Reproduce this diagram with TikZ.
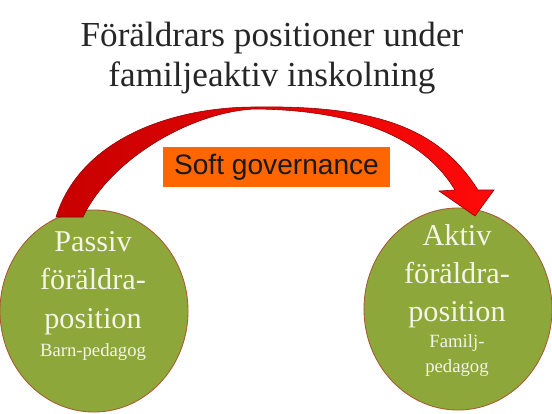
\documentclass[tikz,border=0pt]{standalone}
\usepackage{fontspec}
\setmainfont{Liberation Serif}
\setsansfont{Liberation Sans}
\usetikzlibrary{shapes.geometric,positioning}

\definecolor{posgreen}{HTML}{8DA73B}
\definecolor{posedge}{HTML}{A65A32}
\definecolor{govorange}{HTML}{FF6600}
\definecolor{arrowdark}{HTML}{C80000}
\definecolor{arrowlight}{HTML}{FF0A0A}
\definecolor{postext}{HTML}{F4F4E8}

\tikzset{
  parentpos/.style={ellipse, fill=posgreen, draw=posedge, line width=0.6pt,
    minimum width=4.7cm, minimum height=5.05cm, inner sep=0pt},
  bigtext/.style={text=postext, align=center, font=\fontsize{21.5}{27.2}\selectfont},
  smalltext/.style={text=postext, align=center, font=\fontsize{13.3}{17.8}\selectfont},
  titletext/.style={text=black!85, align=center, font=\fontsize{25}{28.5}\selectfont},
  govbox/.style={fill=govorange, minimum width=5.675cm, minimum height=1cm,
    font=\sffamily\fontsize{20}{24}\selectfont, text=black!90},
}

\begin{document}
\begin{tikzpicture}[x=0.025cm,y=-0.025cm]
    \useasboundingbox (0,0) rectangle (552,414);

    \node[titletext] (titel) at (272,58) {Föräldrars positioner under\\familjeaktiv inskolning};

    % the two positions
    \node[parentpos] (passiv) at (94,311) {};
    \node[parentpos] (aktiv) at (458,309) {};

    % curved arrow from passiv to aktiv
    \draw[draw=arrowdark!70!black, line width=0.4pt, left color=arrowdark, right color=arrowlight]
      (56,217) .. controls (80,140) and (170,107) .. (255,107)
      .. controls (380,105) and (440,130) .. (478,190)
      -- (494,190) -- (475,216) -- (439,191) -- (455,190)
      .. controls (425,140) and (360,110) .. (255,109)
      .. controls (190,112) and (110,160) .. (83,217) -- cycle;

    \node[govbox] (gov) at (276.5,167) {Soft governance};

    \node[bigtext] (passivtxt) at (93,283) {Passiv\\föräldra-\\position};
    \node[smalltext] (passivsub) at (93,352) {Barn-pedagog};

    \node[bigtext] (aktivtxt) at (457,276) {Aktiv\\föräldra-\\position};
    \node[smalltext] (aktivsub) at (457,356) {Familj-\\pedagog};
\end{tikzpicture}
\end{document}
